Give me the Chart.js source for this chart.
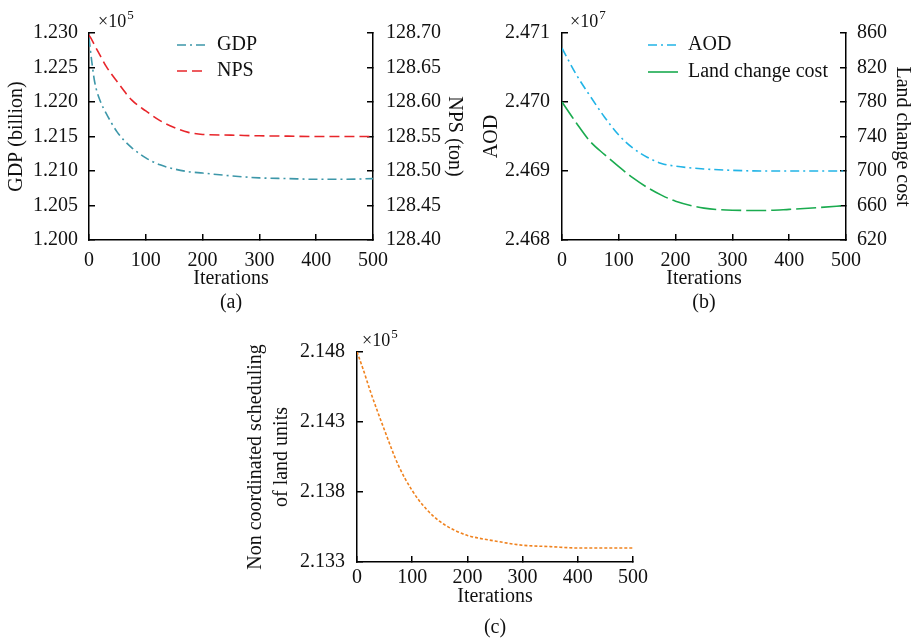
<!DOCTYPE html>
<html>
<head>
<meta charset="utf-8">
<script src="https://cdn.jsdelivr.net/npm/chart.js@4.4.1/dist/chart.umd.min.js"></script>
<style>
    html, body { margin: 0; padding: 0; background: #fff; width: 914px; height: 640px; overflow: hidden; }
    canvas { position: absolute; }
</style>
</head>
<body>
<canvas id="chartA" width="470" height="320" style="left:0;top:0"></canvas>
<canvas id="chartB" width="454" height="320" style="left:460px;top:0"></canvas>
<canvas id="chartC" width="440" height="330" style="left:230px;top:320px"></canvas>
<script>
// ---- data ----
// (a) GDP (x10^5 billion) and NPS (ton)
const itersA = [0, 5, 10, 20, 30, 50, 75, 100, 125, 150, 175, 200, 250, 300, 350, 400, 450, 500];
const gdp = [1.2293, 1.2258, 1.2229, 1.2201, 1.2184, 1.2156, 1.2134, 1.2119, 1.2109, 1.2103, 1.2099, 1.2097, 1.2093, 1.2090, 1.2089, 1.2088, 1.2088, 1.2089];
const nps = [128.697, 128.690, 128.682, 128.667, 128.652, 128.629, 128.603, 128.587, 128.573, 128.563, 128.556, 128.553, 128.552, 128.551, 128.5505, 128.550, 128.550, 128.550];

// (b) AOD (x10^7) and land change cost
const itersB = [0, 25, 50, 75, 100, 125, 150, 175, 200, 250, 300, 350, 400, 450, 500];
const aod = [2.47078, 2.47040, 2.47008, 2.46978, 2.46952, 2.46933, 2.46920, 2.46911, 2.46907, 2.46903, 2.46901, 2.46900, 2.46900, 2.46900, 2.46900];
const landCost = [780, 756, 734, 719, 705, 692, 681, 672, 665, 657, 654.5, 654.2, 655.5, 657.5, 660];

// (c) non coordinated scheduling of land units (x10^5)
const itersC = [0, 10, 25, 50, 75, 100, 125, 150, 175, 200, 250, 300, 350, 400, 450, 500];
const nonCoord = [2.1480, 2.1469, 2.1451, 2.1424, 2.1399, 2.1381, 2.1368, 2.1359, 2.1353, 2.1349, 2.1345, 2.1342, 2.1341, 2.1340, 2.1340, 2.1340];

const FONT = "'Liberation Serif', 'Times New Roman', serif";
Chart.defaults.font.family = FONT;
Chart.defaults.font.size = 20;
Chart.defaults.color = '#111';

function pts(xs, ys) {
    return xs.map((x, i) => ({ x: x, y: ys[i] }));
}

// axis line + short inward ticks
const grid = { drawOnChartArea: false, drawTicks: true, tickLength: -6, color: '#000', lineWidth: 1.5 };
const border = { display: true, color: '#000', width: 1.5 };

function yScale(pos, min, max, step, digits, title, width, pad, titlePad, lh) {
    return {
        type: 'linear', position: pos, min: min, max: max,
        afterFit: s => { s.width = width; },
        ticks: { stepSize: step, padding: pad, callback: v => v.toFixed(digits) },
        grid: grid, border: border,
        title: { display: true, text: title, padding: { top: titlePad, bottom: 0 }, font: { size: 20, lineHeight: lh || 1.2 } }
    };
}

function xScale(lines, height, pad, titleBottom, lh) {
    return {
        type: 'linear', min: 0, max: 500,
        afterFit: s => { s.height = height; },
        ticks: { stepSize: 100, padding: pad, maxRotation: 0 },
        grid: grid, border: border,
        title: { display: true, text: lines, padding: { top: 0, bottom: titleBottom }, font: { size: 20, lineHeight: lh } }
    };
}

function line(label, xs, ys, color, dash, axis) {
    return {
        label: label, data: pts(xs, ys), yAxisID: axis,
        borderColor: color, borderWidth: 1.6, borderDash: dash,
        pointRadius: 0, fill: false, cubicInterpolationMode: 'monotone'
    };
}

// legend drawn inside the plot, and the "x10^n" multiplier above the axis
const extras = {
    id: 'extras',
    afterDraw(chart, args, opts) {
        const ctx = chart.ctx;
        const area = chart.chartArea;
        ctx.save();
        ctx.fillStyle = '#111';
        ctx.textBaseline = 'alphabetic';
        ctx.font = '18px ' + FONT;
        const x0 = area.left + opts.dx;
        ctx.fillText('\u00d710', x0, area.top - 6);
        const w = ctx.measureText('\u00d710').width;
        ctx.font = '13px ' + FONT;
        ctx.fillText(opts.exp, x0 + w + 1, area.top - 14);

        if (opts.legend) {
            const lg = opts.legend;
            chart.data.datasets.forEach((ds, i) => {
                const y = lg.y + i * lg.gap;
                ctx.strokeStyle = ds.borderColor;
                ctx.lineWidth = ds.borderWidth;
                ctx.setLineDash(lg.solid && lg.solid.includes(i) ? [] : ds.borderDash);
                ctx.beginPath();
                ctx.moveTo(lg.x, y);
                ctx.lineTo(lg.x + 30, y);
                ctx.stroke();
                ctx.setLineDash([]);
                ctx.font = '20px ' + FONT;
                ctx.textBaseline = 'middle';
                ctx.fillText(ds.label, lg.x + 40, y);
            });
        }
        ctx.restore();
    }
};

new Chart(document.getElementById('chartA'), {
    type: 'line',
    data: {
        datasets: [
            line('GDP', itersA, gdp, '#3d97a9', [9, 4, 2, 4], 'y'),
            line('NPS', itersA, nps, '#e8262b', [10, 5], 'y2')
        ]
    },
    options: {
        responsive: false, animation: false,
        layout: { padding: { top: 33, left: 0, right: 0, bottom: 0 } },
        plugins: {
            legend: { display: false }, tooltip: { enabled: false },
            extras: { exp: '5', dx: 9, legend: { x: 177, y: 45, gap: 26 } }
        },
        scales: {
            x: xScale(['Iterations', '(a)'], 80, 15, 5, 1.2),
            y: yScale('left', 1.200, 1.230, 0.005, 3, 'GDP (billion)', 89, 17, 5),
            y2: yScale('right', 128.40, 128.70, 0.05, 2, 'NPS (ton)', 97, 19, 4)
        }
    },
    plugins: [extras]
});

new Chart(document.getElementById('chartB'), {
    type: 'line',
    data: {
        datasets: [
            line('AOD', itersB, aod, '#22b4e6', [9, 4, 2, 4], 'y'),
            line('Land change cost', itersB, landCost, '#1aab4f', [20, 5], 'y2')
        ]
    },
    options: {
        responsive: false, animation: false,
        layout: { padding: { top: 33, left: 0, right: 0, bottom: 0 } },
        plugins: {
            legend: { display: false }, tooltip: { enabled: false },
            extras: { exp: '7', dx: 8, legend: { x: 188, y: 45, gap: 27, solid: [1] } }
        },
        scales: {
            x: xScale(['Iterations', '(b)'], 80, 15, 5, 1.2),
            y: yScale('left', 2.468, 2.471, 0.001, 3, 'AOD', 102, 18, 20),
            y2: yScale('right', 620, 860, 40, 0, 'Land change cost', 68, 17, 0)
        }
    },
    plugins: [extras]
});

new Chart(document.getElementById('chartC'), {
    type: 'line',
    data: {
        datasets: [
            line('Non coordinated scheduling of land units', itersC, nonCoord, '#f0821e', [3, 2], 'y')
        ]
    },
    options: {
        responsive: false, animation: false,
        layout: { padding: { top: 32, left: 0, right: 37, bottom: 0 } },
        plugins: {
            legend: { display: false }, tooltip: { enabled: false },
            extras: { exp: '5', dx: 5 }
        },
        scales: {
            x: xScale(['Iterations', '(c)'], 88, 10, 6.5, 1.55),
            y: yScale('left', 2.133, 2.148, 0.005, 3, ['Non coordinated scheduling', 'of land units'], 127, 18, 13, 1.3)
        }
    },
    plugins: [extras]
});
</script>
</body>
</html>
